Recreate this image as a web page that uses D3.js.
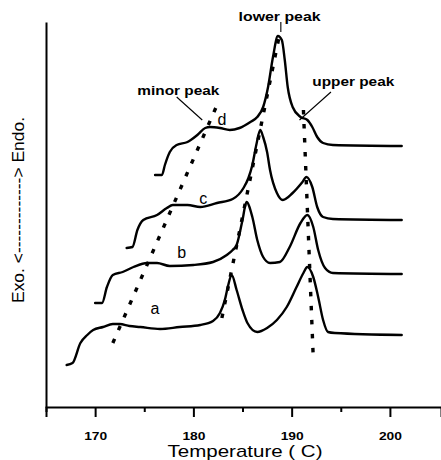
<!DOCTYPE html>
<html>
<head>
<meta charset="utf-8">
<script src="https://cdn.jsdelivr.net/npm/d3@7"></script>
<style>
  html, body { margin: 0; padding: 0; background: #fff; }
  svg { display: block; }
  text { font-family: Arial, "Liberation Sans", sans-serif; fill: #000; }
</style>
</head>
<body>
<svg id="chart" width="441" height="460"></svg>
<script>
// ---- data (temperature in C, heat flow in arbitrary units, curves offset) ----
const curveA = [
  [167.1, 4.2], [167.7, 4.4], [168.5, 6.4], [169.2, 7.2], [169.8, 7.7], [170.8, 8.0],
  [171.8, 8.3], [172.5, 8.3], [173.5, 8.1], [174.6, 8.0], [176.6, 7.8], [178.6, 8.0],
  [180.7, 8.2], [182.0, 8.6], [182.7, 9.4], [183.2, 10.7], [183.5, 12.0], [183.9, 13.2],
  [184.4, 11.7], [185.0, 9.7], [185.5, 8.4], [186.5, 7.5], [187.5, 7.9], [188.5, 8.7],
  [189.5, 10.0], [190.5, 12.0], [191.2, 13.4], [191.6, 14.0], [192.2, 13.0], [192.7, 11.0],
  [193.2, 8.7], [193.7, 7.5], [194.4, 7.4], [201.2, 7.2]
];
const curveB = [
  [170.0, 10.4], [170.7, 10.4], [171.2, 12.0], [171.8, 13.2], [172.8, 13.5], [173.9, 14.0],
  [175.3, 14.4], [176.3, 14.4], [177.6, 14.1], [180.0, 14.2], [182.0, 14.5], [183.4, 15.2],
  [184.0, 15.7], [184.4, 16.2], [185.0, 18.7], [185.4, 20.5], [186.0, 19.0], [186.5, 16.7],
  [187.1, 15.0], [187.8, 14.4], [188.8, 14.5], [189.8, 16.0], [190.9, 18.4], [191.6, 19.2],
  [192.2, 18.0], [192.7, 15.7], [193.4, 13.9], [194.2, 13.4], [201.2, 13.3]
];
const curveC = [
  [173.2, 15.9], [173.8, 16.0], [174.3, 17.7], [174.9, 18.7], [176.3, 19.2], [177.3, 19.9],
  [177.9, 20.2], [179.4, 20.2], [180.7, 20.0], [182.4, 20.4], [184.0, 20.8], [185.1, 21.9],
  [185.6, 22.9], [186.0, 24.2], [186.4, 26.2], [186.8, 27.7], [187.1, 27.0], [187.5, 25.5],
  [187.8, 23.7], [188.5, 21.4], [189.1, 20.7], [190.1, 21.4], [191.1, 22.5], [191.5, 23.0],
  [192.1, 22.0], [192.6, 20.0], [193.2, 19.0], [194.2, 18.8], [201.2, 18.7]
];
const curveD = [
  [176.1, 23.2], [176.8, 23.2], [177.1, 24.2], [177.6, 25.5], [178.3, 26.2], [179.4, 26.5],
  [180.4, 27.2], [181.2, 27.9], [181.7, 28.0], [182.7, 27.9], [183.7, 27.7], [184.7, 27.9],
  [185.8, 28.5], [186.5, 29.0], [187.1, 30.0], [187.6, 32.0], [188.1, 35.0], [188.6, 37.1],
  [189.0, 36.7], [189.3, 34.7], [189.6, 32.0], [190.1, 30.0], [190.9, 29.0], [191.6, 28.7],
  [192.1, 28.0], [192.6, 27.0], [193.2, 26.4], [194.2, 26.2], [201.2, 26.1]
];
const seriesNames = ["a", "b", "c", "d"];
// label anchor for each series [temperature, value]
const seriesLabels = [[176.1, 9.3], [178.8, 14.9], [181.0, 20.3], [182.9, 28.2]];

// peak trajectories (dotted lines), endpoints [temperature, value]
const minorPeakLine = [[171.8, 6.4], [182.5, 30.4]];
const lowerPeakLine = [[182.9, 8.9], [188.8, 37.4]];
const upperPeakLine = [[191.2, 29.7], [192.2, 4.9]];

const xTickValues = [165, 170, 175, 180, 185, 190, 195, 200];
const xTickLabels = ["", "170", "", "180", "", "190", "", "200"];
const xTitle = "Temperature ( C)";
const yTitle = "Exo. <-------------> Endo.";

// annotations: text, text anchor [t, v], leader line from/to [t, v]
const annotations = [
  { text: "minor peak", at: [174.3, 31.2], from: [178.3, 31.0], to: [180.9, 28.7] },
  { text: "lower peak", at: [184.6, 38.6], from: [188.9, 38.5], to: [188.9, 37.5] },
  { text: "upper peak", at: [192.1, 32.1], from: [194.0, 31.5], to: [190.8, 28.7] }
];

// ---- drawing ----
const svg = d3.select("#chart");
const x = d3.scaleLinear().domain([165, 205.2]).range([46, 441]);
const y = d3.scaleLinear().domain([0, 38.5]).range([407, 22]);

const line = d3.line()
  .x(d => x(d[0]))
  .y(d => y(d[1]))
  .curve(d3.curveMonotoneX);

[curveA, curveB, curveC, curveD].forEach(c => {
  svg.append("path")
    .attr("d", line(c))
    .attr("fill", "none")
    .attr("stroke", "#000")
    .attr("stroke-width", 2.4)
    .attr("stroke-linejoin", "round")
    .attr("stroke-linecap", "round");
});

// dotted peak lines
const straight = d3.line().x(d => x(d[0])).y(d => y(d[1]));
[minorPeakLine, lowerPeakLine, upperPeakLine].forEach(l => {
  svg.append("path")
    .attr("d", straight(l))
    .attr("fill", "none")
    .attr("stroke", "#000")
    .attr("stroke-width", 3.4)
    .attr("stroke-dasharray", "4.5,9.5");
});

// series labels
seriesNames.forEach((n, i) => {
  svg.append("text")
    .attr("x", x(seriesLabels[i][0]))
    .attr("y", y(seriesLabels[i][1]))
    .attr("text-anchor", "middle")
    .attr("font-size", 16)
    .text(n);
});

// annotations
annotations.forEach(a => {
  svg.append("text")
    .attr("x", x(a.at[0]))
    .attr("y", y(a.at[1]))
    .attr("font-size", 12.5)
    .attr("font-weight", "bold")
    .attr("textLength", 82)
    .attr("lengthAdjust", "spacingAndGlyphs")
    .text(a.text);
  svg.append("line")
    .attr("x1", x(a.from[0])).attr("y1", y(a.from[1]))
    .attr("x2", x(a.to[0])).attr("y2", y(a.to[1]))
    .attr("stroke", "#000")
    .attr("stroke-width", 1.1);
});

// x axis
const xAxis = d3.axisBottom(x)
  .tickValues(xTickValues)
  .tickFormat((d, i) => xTickLabels[i])
  .tickSizeOuter(0)
  .tickSize(10)
  .tickPadding(15);
const gx = svg.append("g").attr("transform", `translate(0,${y(0)})`).call(xAxis);
gx.select(".domain").attr("stroke-width", 2);
gx.selectAll(".tick line").attr("stroke-width", 2)
  .attr("y2", (d, i) => xTickLabels[i] ? 10 : 5);
gx.selectAll(".tick text")
  .attr("font-family", "Arial, 'Liberation Sans', sans-serif")
  .attr("font-size", 11)
  .attr("font-weight", "bold")
  .attr("textLength", (d, i) => xTickLabels[i] ? 23 : null)
  .attr("lengthAdjust", "spacingAndGlyphs");

// y axis (plain line)
const yAxis = d3.axisLeft(y).tickValues([]).tickSizeOuter(0);
const gy = svg.append("g").attr("transform", `translate(${x(165)},0)`).call(yAxis);
gy.select(".domain").attr("stroke-width", 2);

// titles
svg.append("text")
  .attr("x", 245)
  .attr("y", 457)
  .attr("text-anchor", "middle")
  .attr("font-size", 17)
  .attr("textLength", 155)
  .attr("lengthAdjust", "spacingAndGlyphs")
  .text(xTitle);

svg.append("text")
  .attr("transform", "translate(24,210) rotate(-90)")
  .attr("text-anchor", "middle")
  .attr("font-size", 16.5)
  .attr("textLength", 186)
  .attr("lengthAdjust", "spacingAndGlyphs")
  .text(yTitle);
</script>
</body>
</html>
